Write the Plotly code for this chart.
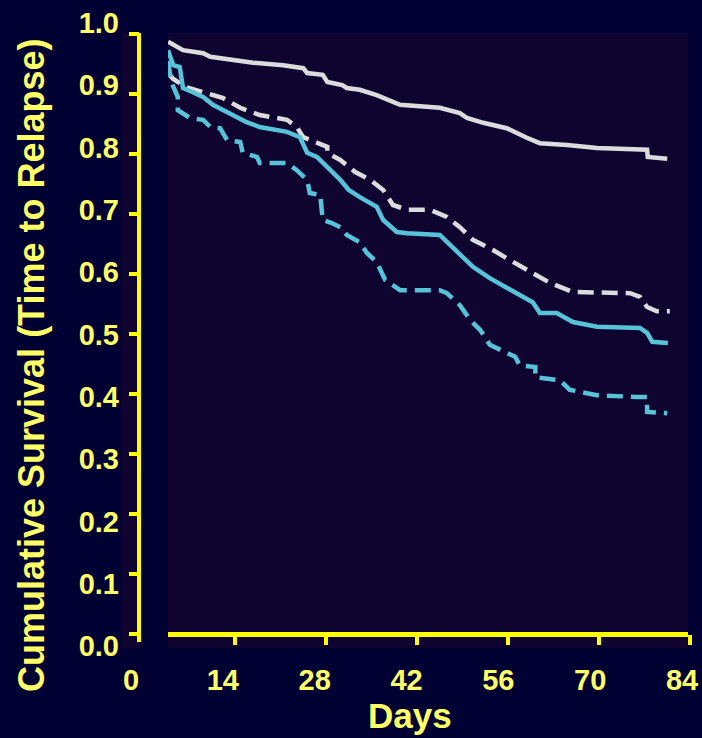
import plotly.graph_objects as go

W, H = 702, 738

# Kaplan-Meier estimates: days since start vs cumulative survival (time to relapse)
white_solid_days = [3.7, 4.5, 6.0, 9.1, 10.2, 16.8, 21.4, 24.5, 25.1, 27.5, 28.2, 30.5, 31.2,
                    33.2, 35.8, 39.4, 45.5, 48.6, 49.7, 52.2, 55.8, 58.9, 60.9, 65.1, 69.7,
                    77.4, 77.5, 80.5]
white_solid_surv = [0.987, 0.982, 0.973, 0.968, 0.962, 0.952, 0.948, 0.943, 0.935, 0.932,
                    0.920, 0.915, 0.910, 0.907, 0.898, 0.882, 0.877, 0.868, 0.860, 0.852,
                    0.843, 0.827, 0.818, 0.815, 0.810, 0.807, 0.795, 0.792]

white_dash_days = [3.7, 4.5, 5.5, 6.3, 9.1, 12.2, 14.8, 17.8, 22.0, 23.5, 24.5, 26.6, 28.2,
                   28.2, 30.2, 32.5, 34.8, 36.8, 38.3, 40.5, 44.0, 46.6, 48.6, 50.6, 53.7,
                   56.3, 58.9, 60.9, 62.5, 66.0, 74.8, 76.3, 77.4, 78.9, 80.9]
white_dash_surv = [0.935, 0.925, 0.918, 0.912, 0.903, 0.893, 0.877, 0.865, 0.857, 0.845,
                   0.828, 0.820, 0.812, 0.802, 0.790, 0.770, 0.757, 0.740, 0.715, 0.707,
                   0.707, 0.695, 0.678, 0.657, 0.640, 0.623, 0.607, 0.595, 0.585, 0.570,
                   0.568, 0.562, 0.545, 0.538, 0.538]

cyan_solid_days = [3.7, 4.5, 5.5, 5.8, 6.0, 7.5, 9.1, 10.6, 13.2, 15.8, 17.8, 22.0, 24.0,
                   25.1, 26.6, 28.2, 30.2, 31.5, 33.2, 35.8, 36.8, 38.9, 40.5, 45.5, 47.5,
                   49.1, 50.6, 53.2, 55.5, 57.8, 59.8, 60.9, 63.5, 66.0, 69.7, 76.3, 77.4,
                   78.2, 80.6]
cyan_solid_surv = [0.973, 0.948, 0.945, 0.923, 0.910, 0.903, 0.895, 0.882, 0.868, 0.853,
                   0.845, 0.837, 0.828, 0.802, 0.795, 0.778, 0.757, 0.740, 0.728, 0.712,
                   0.690, 0.670, 0.668, 0.665, 0.645, 0.628, 0.612, 0.593, 0.580, 0.565,
                   0.553, 0.535, 0.535, 0.520, 0.512, 0.510, 0.502, 0.487, 0.485]

cyan_dash_days = [3.7, 4.2, 5.2, 5.2, 7.1, 9.1, 10.2, 11.7, 12.8, 14.8, 15.2, 17.4, 17.8,
                  22.0, 23.5, 25.1, 25.5, 27.1, 27.5, 28.9, 30.2, 31.2, 33.2, 34.3, 35.8,
                  36.8, 37.1, 39.4, 45.5, 46.6, 48.6, 50.2, 51.7, 53.2, 55.5, 57.1, 57.8,
                  60.2, 60.2, 64.0, 65.5, 69.7, 75.8, 77.4, 77.4, 80.5]
cyan_dash_surv = [0.955, 0.920, 0.895, 0.873, 0.860, 0.857, 0.845, 0.843, 0.823, 0.820,
                  0.802, 0.795, 0.785, 0.785, 0.773, 0.757, 0.735, 0.732, 0.690, 0.685,
                  0.678, 0.665, 0.653, 0.635, 0.620, 0.595, 0.590, 0.573, 0.573, 0.568,
                  0.548, 0.523, 0.507, 0.482, 0.470, 0.462, 0.448, 0.445, 0.428, 0.423,
                  0.407, 0.398, 0.395, 0.395, 0.370, 0.368]

day_ticks = [0, 14, 28, 42, 56, 70, 84]
surv_ticks = [round(0.1 * i, 1) for i in range(11)]
surv_tick_text = [f"{v:.1f}" for v in surv_ticks]

NAVY = "#000033"
PANEL = "#0f0330"
AXIS_YELLOW = "#ffff00"
TEXT_YELLOW = "#ffff66"
WHITE = "#dcdcdc"
CYAN = "#57c3d8"
FONT = "Liberation Sans, Arial, sans-serif"


def fx(px):
    return px / W


def fy(py):
    return 1 - py / H


series = [
    (white_solid_days, white_solid_surv, WHITE, "solid"),
    (white_dash_days, white_dash_surv, WHITE, "16px,8px"),
    (cyan_solid_days, cyan_solid_surv, CYAN, "solid"),
    (cyan_dash_days, cyan_dash_surv, CYAN, "16px,8px"),
]

fig = go.Figure()
for days, surv, color, dash in series:
    fig.add_trace(go.Scatter(
        x=days, y=surv, mode="lines",
        line=dict(color=color, width=4.5, dash=dash),
        xaxis="x", yaxis="y", showlegend=False, hoverinfo="skip",
    ))

# empty trace that carries the axes used for the tick labels
fig.add_trace(go.Scatter(x=[None], y=[None], xaxis="x2", yaxis="y2",
                         showlegend=False, hoverinfo="skip"))

label_font = dict(family=FONT, size=29, color=TEXT_YELLOW, weight="bold")

fig.update_layout(
    template="none",
    width=W, height=H,
    margin=dict(l=0, r=0, t=0, b=0, pad=0),
    paper_bgcolor=NAVY,
    plot_bgcolor="rgba(0,0,0,0)",
    xaxis=dict(
        domain=[fx(168), fx(690)], range=[84 - (690 - 168) / 6.5, 84],
        anchor="y", showgrid=False, zeroline=False, showline=False, automargin=False,
        tickvals=day_ticks[1:], showticklabels=False,
        ticks="outside", ticklen=10, tickwidth=4, tickcolor=AXIS_YELLOW,
    ),
    yaxis=dict(
        domain=[fy(634), fy(34)], range=[0, 1],
        anchor="free", position=fx(139), showgrid=False, zeroline=False,
        showline=False, automargin=False, tickvals=surv_ticks, showticklabels=False,
        ticks="outside", ticklen=10, tickwidth=4, tickcolor=AXIS_YELLOW,
    ),
    xaxis2=dict(
        domain=[fx(131), fx(682)], range=[0, 84],
        anchor="free", position=fy(660), showgrid=False, zeroline=False,
        showline=False, automargin=False, ticks="", tickvals=day_ticks,
        tickfont=label_font,
    ),
    yaxis2=dict(
        domain=[fy(646), fy(23)], range=[0, 1],
        anchor="free", position=fx(119), showgrid=False, zeroline=False,
        showline=False, automargin=False, ticks="", tickvals=surv_ticks,
        ticktext=surv_tick_text, tickfont=label_font,
    ),
    shapes=[
        dict(type="rect", xref="paper", yref="paper", x0=fx(168), x1=fx(688),
             y0=fy(648), y1=fy(33), fillcolor=PANEL, line=dict(width=0), layer="below"),
        dict(type="rect", xref="paper", yref="paper", x0=fx(122), x1=fx(142),
             y0=fy(648), y1=fy(33), fillcolor=PANEL, line=dict(width=0), layer="below"),
        dict(type="line", xref="paper", yref="paper", x0=fx(139), x1=fx(139),
             y0=fy(642), y1=fy(33), line=dict(color=AXIS_YELLOW, width=4)),
        dict(type="line", xref="paper", yref="paper", x0=fx(168), x1=fx(688),
             y0=fy(634.5), y1=fy(634.5), line=dict(color=AXIS_YELLOW, width=5)),
    ],
    annotations=[
        dict(text="Cumulative Survival (Time to Relapse)", xref="paper", yref="paper",
             x=fx(31), y=fy(365), textangle=-90, showarrow=False,
             xanchor="center", yanchor="middle",
             font=dict(family=FONT, size=36, color=TEXT_YELLOW, weight="bold")),
        dict(text="Days", xref="paper", yref="paper", x=fx(410), y=fy(737),
             showarrow=False, xanchor="center", yanchor="bottom",
             font=dict(family=FONT, size=35, color=TEXT_YELLOW, weight="bold")),
    ],
)

fig.write_html("out.html")
